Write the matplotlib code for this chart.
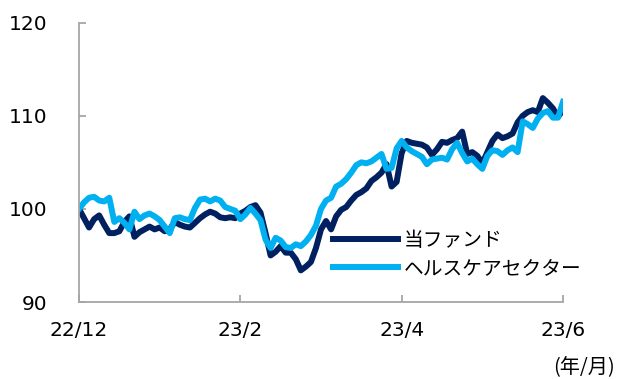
import matplotlib
matplotlib.use("Agg")
import matplotlib.pyplot as plt
import numpy as np

plt.rcParams['font.family'] = ['DejaVu Sans', 'Noto Sans CJK JP']

tick_labels = ["22/12", "23/2", "23/4", "23/6"]
yticks = [90, 100, 110, 120]

fund = [100.0, 99.0, 98.0, 98.9, 99.3, 98.3, 97.4, 97.4, 97.6, 98.6,
        99.2, 97.0, 97.5, 97.8, 98.1, 97.8, 98.0, 97.6, 97.8, 98.6,
        98.3, 98.1, 98.0, 98.5, 99.0, 99.4, 99.7, 99.5, 99.1, 99.0,
        99.1, 99.0, 99.5, 99.8, 100.2, 100.4, 99.6, 97.4, 95.0, 95.4,
        96.0, 95.3, 95.3, 94.6, 93.4, 93.8, 94.3, 95.8, 97.8, 98.7,
        97.8, 99.2, 99.9, 100.2, 100.9, 101.5, 101.8, 102.2, 103.0, 103.4,
        103.9, 104.8, 102.4, 102.9, 106.0, 107.3, 107.1, 107.0, 106.9, 106.6,
        105.8, 106.4, 107.2, 107.1, 107.4, 107.6, 108.3, 105.9, 106.1, 105.7,
        104.9, 106.1, 107.3, 108.0, 107.6, 107.8, 108.1, 109.3, 110.0, 110.4,
        110.6, 110.4, 111.9, 111.4, 110.8, 109.9, 110.6]

sector = [100.0, 100.7, 101.2, 101.3, 100.9, 100.8, 101.2, 98.6, 99.0, 98.5,
          97.8, 99.7, 98.9, 99.3, 99.5, 99.2, 98.8, 98.1, 97.4, 99.0,
          99.1, 98.9, 98.8, 100.1, 101.0, 101.1, 100.8, 101.1, 100.9, 100.2,
          100.0, 99.8, 98.9, 99.4, 100.1, 99.5, 98.8, 96.7, 95.8, 96.9,
          96.6, 95.9, 95.8, 96.2, 96.0, 96.5, 97.2, 98.2, 100.0, 100.9,
          101.2, 102.4, 102.7, 103.2, 103.9, 104.7, 105.0, 104.9, 105.1, 105.5,
          105.9, 104.3, 104.4, 106.5, 107.3, 106.6, 106.2, 105.9, 105.6, 104.8,
          105.3, 105.4, 105.5, 105.3, 106.4, 107.1, 106.0, 105.1, 105.4, 104.8,
          104.3, 105.7, 106.3, 106.2, 105.8, 106.3, 106.6, 106.1, 109.4, 109.1,
          108.7, 109.7, 110.3, 110.5, 109.8, 109.8, 111.5]

labels = ["当ファンド", "ヘルスケアセクター"]
colors = ["#002060", "#00B0F0"]

fig = plt.figure(figsize=(6.2, 3.79), dpi=100)
ax = fig.add_axes([79/620, 1 - 302/379, 484/620, (302 - 22.7)/379])

x = np.arange(len(fund))
ax.plot(x, fund, color=colors[0], lw=4.3, label=labels[0], solid_joinstyle='round')
ax.plot(x, sector, color=colors[1], lw=4.3, label=labels[1], solid_joinstyle='round')

n = len(fund) - 1
ax.set_xlim(0, n)
ax.set_ylim(90, 120)
ax.set_xticks(np.linspace(0, n, len(tick_labels)))
ax.set_xticklabels(tick_labels)
ax.set_yticks(yticks)

for s in ['top', 'right']:
    ax.spines[s].set_visible(False)
for s in ['left', 'bottom']:
    ax.spines[s].set_color('#A6A6A6')
    ax.spines[s].set_linewidth(1.3)

ax.tick_params(axis='y', direction='in', length=5, width=1.3, color='#A6A6A6',
               labelsize=14.5, pad=23, labelcolor='#000000')
ax.tick_params(axis='x', direction='in', length=5, width=1.3, color='#A6A6A6',
               labelsize=14.5, pad=14, labelcolor='#000000')

leg = ax.legend(loc='upper left', bbox_to_anchor=(0.525, 0.255), frameon=False,
                fontsize=14.2, handlelength=3.3, handletextpad=0.3,
                labelspacing=0.45, borderpad=0, borderaxespad=0)

fig.text(615/620, 1 - 368/379, "(年/月)", ha='right', va='center', fontsize=14.5,
         family=['Noto Sans CJK JP', 'DejaVu Sans'])

fig.savefig("out.png", dpi=100)
